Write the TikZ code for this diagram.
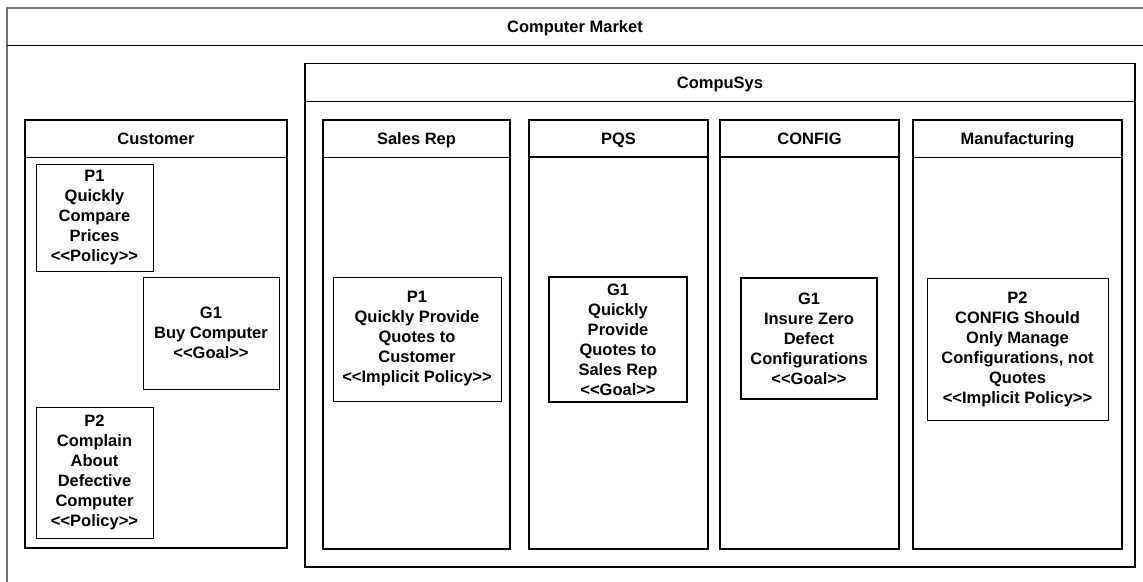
\documentclass[tikz,border=0pt]{standalone}
\usepackage{fontspec}
\setmainfont{Liberation Sans}
\begin{document}
\begin{tikzpicture}[x=1pt,y=-1pt,
  txt/.style={font=\fontsize{16.5}{20}\selectfont\bfseries, align=center, inner sep=0pt},
  title/.style={txt, anchor=base},
  elem/.style={draw, line width=1pt, txt},
  thickelem/.style={elem, line width=2.6pt},
  lane/.style={draw, line width=1.1pt},
  thicklane/.style={draw, line width=2.6pt},
  outer/.style={draw=black!55, line width=1.2pt},
  sep/.style={draw, line width=1pt}
]
\useasboundingbox (0,0) rectangle (1143,581);
\clip (0,0) rectangle (1143,581);

% Computer Market
\draw[outer] (7,8) rectangle (1152,590);
\draw[sep] (7,45) -- (1152,45);
\node[title] (market) at (575,32) {Computer Market};

% CompuSys
\draw[lane] (305,63.5) rectangle (1135,567);
\draw[sep] (305,101.5) -- (1135,101.5);
\node[title] (compusys) at (720,88.5) {CompuSys};

% Customer lane
\draw[lane, line width=1.4pt] (25,120) rectangle (287,548);
\draw[sep] (25,157) -- (287,157);
\node[title] (customer) at (156,144.5) {Customer};

% Sales Rep lane
\draw[lane] (323,120) rectangle (510,549);
\draw[sep] (323,157) -- (510,157);
\node[title] (salesrep) at (416.5,144.5) {Sales Rep};

% PQS lane
\draw[thicklane] (529,120) rectangle (708,549);
\draw[sep, line width=2pt] (529,157) -- (708,157);
\node[title] (pqs) at (618.5,144.5) {PQS};

% CONFIG lane
\draw[thicklane] (720,120) rectangle (899,549);
\draw[sep, line width=2pt] (720,157) -- (899,157);
\node[title] (config) at (809.5,144.5) {CONFIG};

% Manufacturing lane
\draw[lane] (913,120) rectangle (1122,549);
\draw[sep] (913,157) -- (1122,157);
\node[title] (manuf) at (1017.5,144.5) {Manufacturing};

% Customer elements
\node[elem, minimum width=117pt, minimum height=107pt] (cP1) at (94.5,217.5)
  {P1\\Quickly\\Compare\\Prices\\<{}<Policy>{}>};
\node[elem, minimum width=136pt, minimum height=112pt] (cG1) at (211,333)
  {G1\\Buy Computer\\<{}<Goal>{}>};
\node[elem, minimum width=117pt, minimum height=131pt] (cP2) at (94.5,472.5)
  {P2\\Complain\\About\\Defective\\Computer\\<{}<Policy>{}>};

% Sales Rep element
\node[elem, minimum width=168pt, minimum height=124pt] (sP1) at (417,339)
  {P1\\Quickly Provide\\Quotes to\\Customer\\<{}<Implicit Policy>{}>};

% PQS element
\node[thickelem, minimum width=138pt, minimum height=125pt] (pG1) at (618,339.5)
  {G1\\Quickly\\Provide\\Quotes to\\Sales Rep\\<{}<Goal>{}>};

% CONFIG element
\node[thickelem, minimum width=136pt, minimum height=121pt] (kG1) at (809,338.5)
  {G1\\Insure Zero\\Defect\\Configurations\\<{}<Goal>{}>};

% Manufacturing element
\node[elem, minimum width=181pt, minimum height=142pt] (mP2) at (1017.5,349)
  {P2\\CONFIG Should\\Only Manage\\Configurations, not\\Quotes\\<{}<Implicit Policy>{}>};
\end{tikzpicture}
\end{document}
